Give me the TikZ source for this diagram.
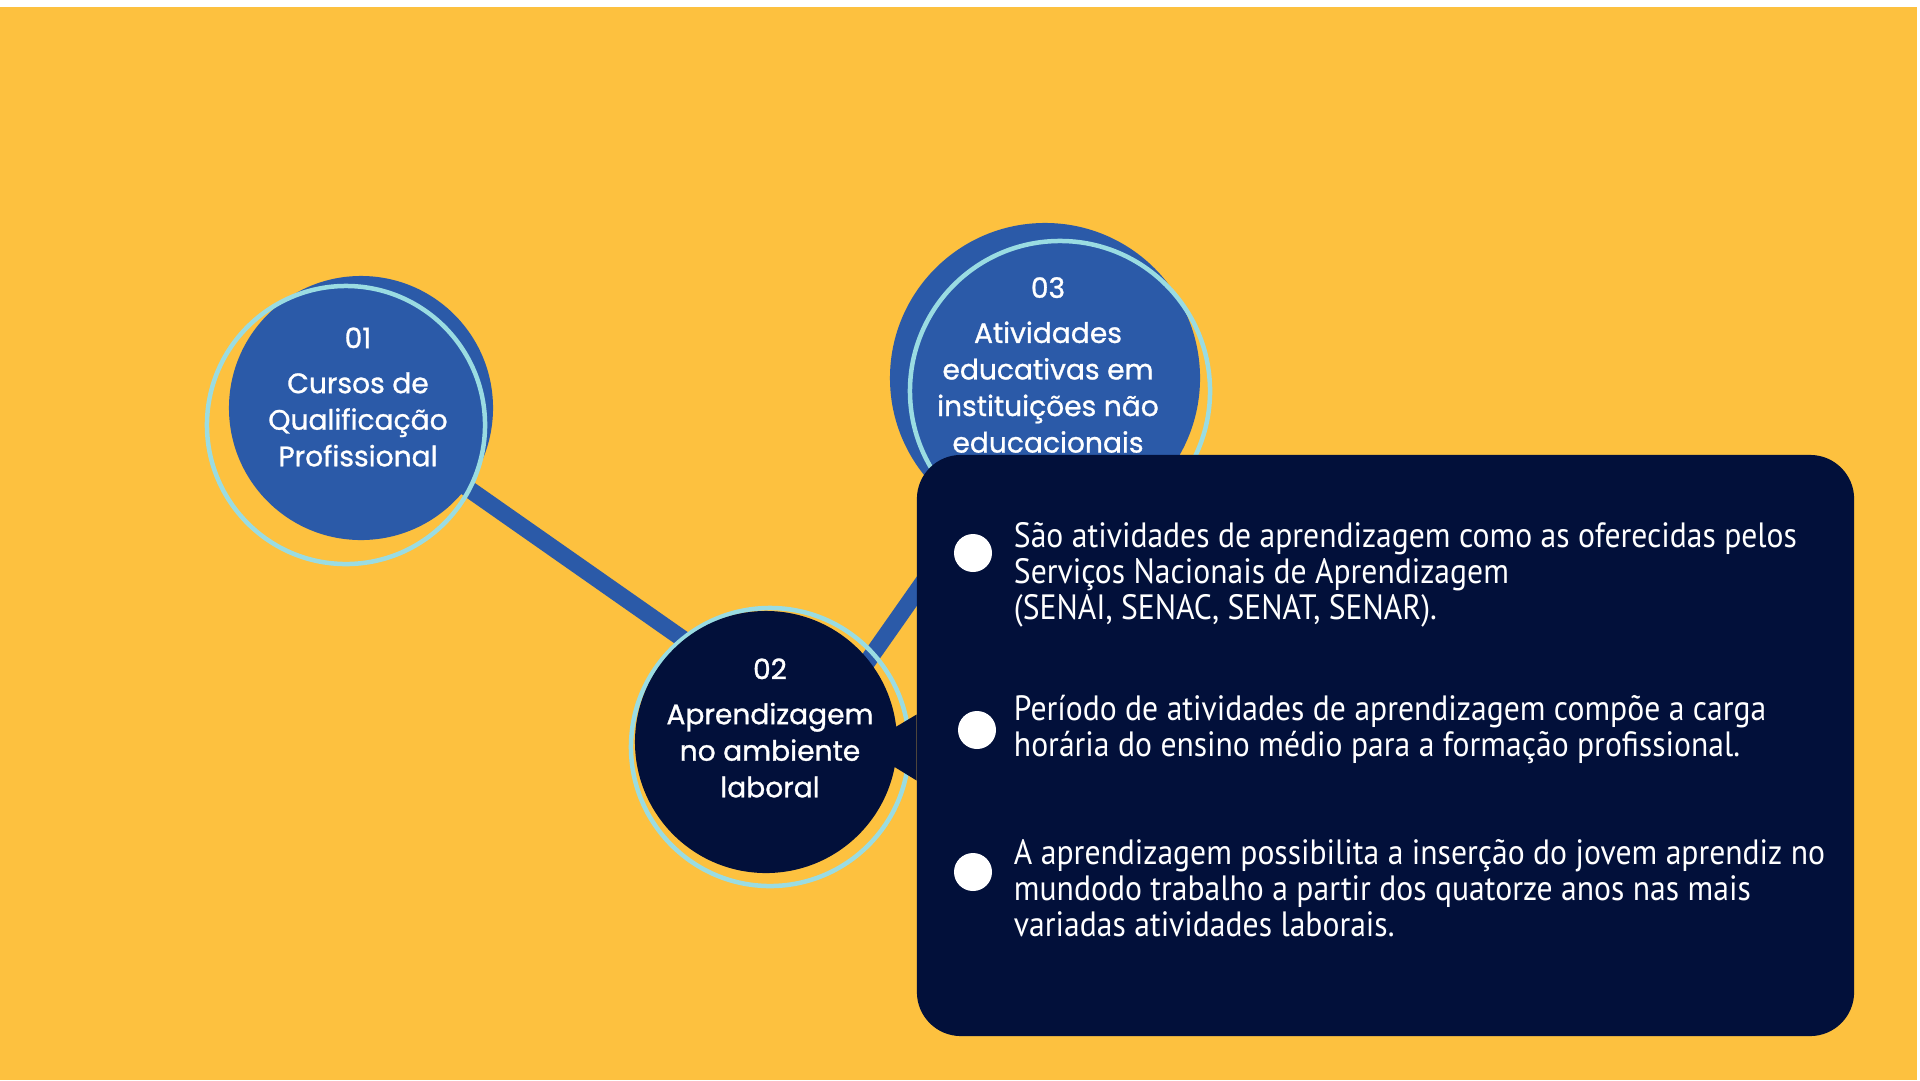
\documentclass[tikz,border=0pt]{standalone}
\usepackage{fontspec}
\setmainfont[FakeStretch=0.9]{PT Sans}
\newfontfamily\roundfont[FakeBold=1]{Poppins}
\usetikzlibrary{positioning, calc}

\definecolor{mustard}{HTML}{FDC13F}
\definecolor{cblue}{HTML}{2B5AA8}
\definecolor{ringblue}{HTML}{9ADCE2}
\definecolor{navy}{HTML}{02103A}

\begin{document}
\begin{tikzpicture}[x=0.025cm, y=-0.025cm,
  disc/.style={circle, fill=#1, inner sep=0pt},
  ring/.style={circle, draw=ringblue, line width=3.2pt, inner sep=0pt},
  ctext/.style={align=center, text=white, font=\roundfont\fontsize{20pt}{26pt}\selectfont},
  link/.style={line width=12pt, cblue},
  panel/.style={rectangle, fill=navy, rounded corners=1.1cm, minimum width=23.425cm, minimum height=14.525cm},
  dot/.style={circle, fill=white, minimum size=0.95cm, inner sep=0pt},
  item/.style={anchor=west, align=left, text=white, font=\fontsize{25pt}{25.6pt}\selectfont}
]
  \useasboundingbox (0,0) rectangle (1920,1080);
  \fill[white] (0,0) rectangle (1920,1080);
  \fill[mustard] (0,7) rectangle (1917,1080);

  \coordinate (j1) at (356,410);
  \coordinate (j2) at (770,700);
  \coordinate (k3) at (1058,390);
  \coordinate (j3) at (811,742);
  \draw[link] (j1) -- (j2);
  \draw[link] (k3) -- (j3);

  \node[disc=cblue, minimum size=6.6cm]   (fill1) at (361,408) {};
  \node[ring, minimum size=6.95cm]        (ring1) at (346,425) {};
  \node[ring, minimum size=6.95cm]        (ring2) at (770,747) {};
  \node[disc=navy, minimum size=6.55cm]   (fill2) at (766,742) {};
  \node[disc=cblue, minimum size=7.75cm]  (fill3) at (1045,378) {};
  \node[ring, minimum size=7.5cm]         (ring3) at (1060,391) {};

  \node[ctext] (lab1) at (358,397)  {01\\[6pt]Cursos de\\Qualificação\\Profissional};
  \node[ctext] (lab2) at (770,728)  {02\\[6pt]Aprendizagem\\no ambiente\\laboral};
  \node[ctext] (lab3) at (1048,365) {03\\[6pt]Atividades\\educativas em\\instituições não\\educacionais};

  \node[panel] (box) at (1385.5,745.5) {};
  \coordinate (tip) at (862,747);
  \fill[navy] (tip) -- ($(box.west)+(0,-31)$) -- ($(box.west)+(0,35)$) -- cycle;

  \node[dot] (d1) at (973,553) {};
  \node[dot] (d2) at (977,730) {};
  \node[dot] (d3) at (973,872) {};

  \node[item] (i1) at (1009,575) {São atividades de aprendizagem como as oferecidas pelos\\Serviços Nacionais de Aprendizagem\\(SENAI, SENAC, SENAT, SENAR).};
  \node[item] (i2) at (1009,729) {Período de atividades de aprendizagem compõe a carga\\horária do ensino médio para a formação profissional.};
  \node[item] (i3) at (1009,888) {A aprendizagem possibilita a inserção do jovem aprendiz no\\mundodo trabalho a partir dos quatorze anos nas mais\\variadas atividades laborais.};
\end{tikzpicture}
\end{document}
